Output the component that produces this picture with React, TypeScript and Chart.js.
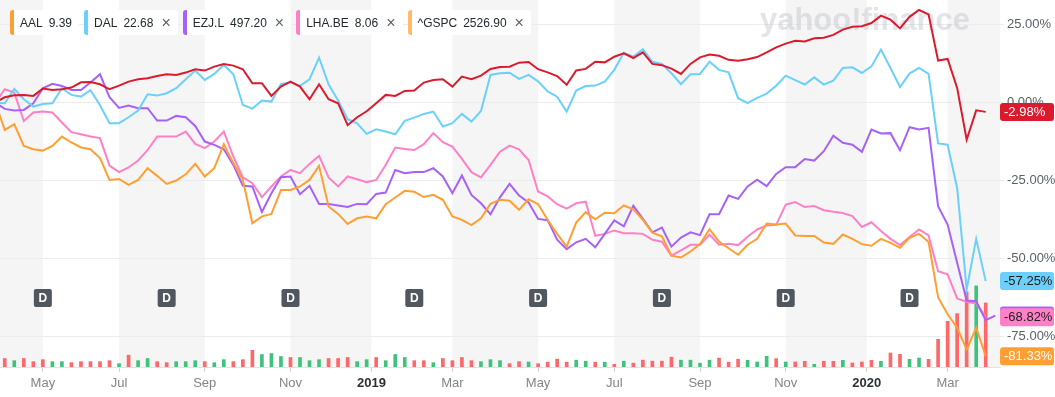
import React, { useEffect, useRef } from "react";
import { Chart, registerables } from "chart.js";

Chart.register(...registerables);

// Weekly points; index 0 = week of 2018-04-02 (comparison base), last = week of 2020-03-30
const FIRST_WEEK = "2018-04-02";

// % change series
const gspc = [0, 1.7, 2.35, 2.46, 2.14, 4.49, 4.06, 4.27, 4.81, 6.52, 6.62, 5.88, 4.27, 5.45, 6.73, 7.48, 7.8, 8.55, 9.08, 8.87,
  9.62, 10.68, 10.26, 11.54, 12.39, 11.86, 10.68, 6.2, 6.2, 2.14, 5.13, 6.73, 5.13, 1.07, 5.88, 1.07, -0.2, -7.26, -4.7, -2.78,
  -0.2, 2.46, 2.14, 3.74, 3.85, 6.41, 7.26, 7.48, 5.13, 8.33, 7.48, 8.65, 10.79, 11.4, 11.5, 12.8, 13.0, 10.7, 9.7, 8.5,
  5.7, 10.3, 10.8, 13.1, 12.9, 14.7, 15.8, 14.3, 16.1, 12.4, 12.0, 10.9, 9.2, 12.4, 14.5, 15.4, 15.0, 13.7, 13.4, 13.9,
  14.6, 16.1, 17.7, 18.9, 19.8, 19.6, 20.6, 20.8, 21.7, 23.4, 24.3, 24.5, 25.5, 27.9, 26.6, 23.8, 27.5, 29.7, 28.3, 13.5,
  14.0, 4.7, -11.9, -2.5, -2.98];
const dal = [0, -0.2, 4.4, 1.07, -1.28, -0.43, -0.2, 4.6, 2.46, 1.92, 3.95, -0.85, -6.6, -6.6, -4.7, -2.56, 2.67, 2.24, 3.0, 4.6,
  7.5, 10.26, 7.26, 9.19, 12.07, 9.08, -0.75, -1.92, 0.64, 0.32, 5.88, 6.52, 5.34, 7.48, 14.42, 5.88, 0.64, -5.34, -6.62, -10.04,
  -8.55, -9.29, -10.15, -5.88, -4.81, -3.63, -2.88, -7.69, -6.62, -3.63, -6.09, -2.67, 8.87, 9.4, 9.6, 7.6, 8.9, 6.8, 3.6, 1.9,
  -2.9, 3.85, 5.3, 5.45, 6.7, 10.5, 16.0, 14.7, 17.1, 13.1, 12.4, 9.4, 5.9, 9.1, 9.2, 13.1, 10.5, 9.7, 1.4, -0.2,
  1.5, 2.9, 5.4, 8.65, 7.2, 5.8, 8.1, 5.8, 7.05, 11.1, 11.3, 9.5, 11.6, 17.0, 11.1, 5.0, 9.3, 11.1, 9.2, -13.1,
  -13.5, -27.4, -59.9, -43.7, -57.25];
const ezj = [0, -2.03, -2.56, -2.35, -0.2, 4.6, 6.0, 5.34, 4.06, 4.06, 6.41, 9.08, 1.7, -1.7, -0.96, -1.82, -1.82, -5.77, -5.77, -4.27,
  -4.7, -7.48, -12.5, -13.57, -14.96, -19.98, -26.7, -26.9, -35.1, -29.06, -23.93, -23.72, -29.38, -26.7, -32.5, -32.5, -33.0, -33.5, -32.5, -32.6,
  -29.3, -28.85, -21.6, -22.65, -22.3, -22.3, -21.05, -23.7, -29.06, -23.4, -29.6, -32.3, -35.8, -30.4, -26.1, -29.8, -32.05, -37.3, -37.7, -44.0,
  -47.0, -44.8, -43.7, -46.4, -42.1, -37.8, -39.7, -33.1, -37.3, -41.6, -40.1, -46.2, -43.3, -41.6, -42.5, -35.8, -35.8, -29.8, -30.9, -26.9,
  -24.7, -26.8, -22.9, -20.7, -20.7, -18.1, -18.6, -15.6, -10.6, -12.9, -13.5, -15.8, -8.65, -9.9, -9.8, -15.3, -7.9, -8.65, -8.1, -33.2,
  -39.1, -51.4, -63.5, -63.7, -69.8, -68.3];
const lha = [0, 4.27, 3.2, -5.9, -3.2, -2.9, -3.2, -6.4, -9.5, -10.15, -10.9, -11.4, -20.2, -22.3, -20.8, -18.6, -15.2, -10.9, -10.9, -10.9,
  -9.3, -13.25, -14.6, -12.5, -9.3, -17.3, -24.0, -25.85, -30.3, -26.9, -23.7, -21.6, -22.65, -19.66, -17.1, -24.0, -26.9, -23.7, -24.6, -25.5,
  -24.8, -20.0, -14.4, -14.85, -15.2, -13.35, -9.8, -12.7, -14.1, -18.05, -22.3, -24.0, -20.0, -15.75, -13.8, -15.0, -18.4, -28.5, -30.1, -32.6,
  -34.0, -32.3, -31.8, -42.7, -42.1, -41.0, -41.9, -41.9, -42.1, -44.0, -44.6, -49.1, -47.4, -45.6, -45.6, -42.4, -45.6, -45.3, -45.7, -43.0,
  -40.7, -39.4, -39.2, -32.7, -31.9, -33.5, -33.2, -34.5, -35.0, -35.4, -36.4, -39.9, -38.4, -41.2, -43.7, -45.7, -43.1, -40.7, -42.6, -54.1,
  -55.1, -62.8, -63.9, -64.4, -68.82];
const aal = [0, -8.76, -6.94, -13.9, -14.96, -15.4, -13.9, -10.9, -12.8, -14.4, -14.96, -17.8, -24.8, -24.5, -26.4, -24.8, -21.05, -23.5, -26.1, -25.0,
  -23.0, -19.66, -23.7, -21.05, -13.35, -19.4, -24.8, -38.7, -36.5, -35.7, -28.0, -28.0, -26.9, -24.8, -20.3, -33.3, -35.7, -38.9, -37.1, -36.5,
  -37.1, -32.6, -30.45, -28.3, -28.6, -30.3, -29.6, -31.2, -36.5, -37.6, -39.3, -37.1, -32.5, -31.2, -31.5, -34.4, -31.0, -32.6, -37.6, -42.1,
  -46.2, -38.5, -35.15, -37.4, -35.3, -35.5, -33.0, -34.2, -37.6, -41.7, -42.9, -49.1, -49.7, -47.75, -45.4, -40.6, -44.6, -46.7, -48.8, -45.6,
  -43.7, -38.8, -39.1, -38.8, -42.6, -42.8, -42.8, -44.9, -45.3, -42.3, -43.7, -45.4, -45.9, -43.7, -45.0, -46.6, -43.4, -42.1, -44.7, -62.4,
  -67.9, -72.2, -79.2, -72.2, -81.33];

// AAL weekly volume (millions, estimated) and up/down week flag (1 = up)
const volume = [36, 51, 38, 51, 32, 44, 32, 32, 26, 32, 32, 32, 38, 20, 71, 38, 51, 32, 26, 32,
  32, 38, 32, 26, 44, 32, 44, 100, 75, 81, 63, 57, 57, 38, 44, 51, 51, 57, 32, 44,
  57, 38, 75, 57, 38, 38, 26, 51, 38, 57, 38, 32, 44, 38, 20, 32, 30, 20, 29, 47,
  29, 41, 35, 29, 29, 16, 35, 23, 41, 35, 35, 59, 41, 41, 23, 41, 53, 29, 47, 40,
  30, 64, 50, 30, 30, 34, 16, 34, 34, 40, 24, 30, 40, 34, 84, 76, 46, 54, 46, 166,
  274, 320, 450, 486, 384];
const volumeUp = [0, 0, 1, 0, 0, 0, 1, 1, 0, 0, 0, 0, 0, 1, 0, 1, 1, 0, 0, 1,
  1, 1, 0, 1, 1, 0, 0, 0, 1, 1, 1, 0, 1, 1, 1, 0, 0, 0, 1, 1,
  0, 1, 1, 1, 0, 0, 1, 0, 0, 0, 0, 1, 1, 1, 0, 0, 1, 0, 0, 0,
  0, 1, 1, 0, 1, 0, 1, 0, 0, 0, 0, 0, 1, 1, 1, 1, 0, 0, 0, 1,
  1, 1, 0, 1, 0, 0, 1, 0, 0, 1, 0, 0, 0, 1, 0, 0, 1, 1, 0, 0,
  0, 0, 0, 1, 0];

// x-axis ticks (week index positions) and labels
const tickPositions = [5, 13, 22, 31, 39.5, 48, 57, 65, 74, 83, 91.5, 100];
const tickLabels = ["May", "Jul", "Sep", "Nov", "2019", "Mar", "May", "Jul", "Sep", "Nov", "2020", "Mar"];
const yTicks = [-75, -50, -25, 0, 25];
const dividendWeeks = [5, 18, 31, 44, 57, 70, 83, 96];

const legendItems = [
  { symbol: "AAL", price: "9.39", color: "#ff9f33", removable: false },
  { symbol: "DAL", price: "22.68", color: "#6bd0fb", removable: true },
  { symbol: "EZJ.L", price: "497.20", color: "#a662f8", removable: true },
  { symbol: "LHA.BE", price: "8.06", color: "#ff80c6", removable: true },
  { symbol: "^GSPC", price: "2526.90", color: "#ffbb6b", removable: true },
];

const C = {
  gspc: "#dc1a2e",
  dal: "#6bd0fb",
  ezj: "#a662f8",
  lha: "#ff80c6",
  aal: "#ff9f33",
};

const FONT = "'Liberation Sans', Arial, sans-serif";

const pts = (arr: number[]) => arr.map((v, i) => ({ x: i, y: v }));

function roundRect(ctx: CanvasRenderingContext2D, x: number, y: number, w: number, h: number, r: number) {
  ctx.beginPath();
  ctx.moveTo(x + r, y);
  ctx.lineTo(x + w - r, y);
  ctx.quadraticCurveTo(x + w, y, x + w, y + r);
  ctx.lineTo(x + w, y + h - r);
  ctx.quadraticCurveTo(x + w, y + h, x + w - r, y + h);
  ctx.lineTo(x + r, y + h);
  ctx.quadraticCurveTo(x, y + h, x, y + h - r);
  ctx.lineTo(x, y + r);
  ctx.quadraticCurveTo(x, y, x + r, y);
  ctx.closePath();
}

const bandsPlugin = {
  id: "bands",
  beforeDraw(chart: any) {
    const { ctx, chartArea, scales } = chart;
    const x = scales.x;
    const bounds = [x.min, ...tickPositions, x.max];
    ctx.save();
    ctx.fillStyle = "#f5f5f5";
    for (let i = 0; i < bounds.length - 1; i += 2) {
      const x0 = x.getPixelForValue(bounds[i]);
      const x1 = x.getPixelForValue(bounds[i + 1]);
      ctx.fillRect(x0, chartArea.top, x1 - x0, chartArea.bottom - chartArea.top);
    }
    ctx.restore();
  },
  beforeDatasetsDraw(chart: any) {
    const { ctx } = chart;
    ctx.save();
    const text = "yahoo!finance";
    let size = 30;
    ctx.font = `bold ${size}px ${FONT}`;
    const w = ctx.measureText(text).width;
    size = (size * 210) / w;
    ctx.font = `bold ${size}px ${FONT}`;
    ctx.fillStyle = "rgba(190,196,204,0.45)";
    ctx.textBaseline = "alphabetic";
    ctx.fillText(text, 760, 30);
    ctx.restore();
  },
  afterDatasetsDraw(chart: any) {
    const { ctx, chartArea, scales } = chart;
    const x = scales.x;
    ctx.save();
    const cy = chartArea.bottom - 69;
    dividendWeeks.forEach((d) => {
      const px = x.getPixelForValue(d);
      ctx.fillStyle = "#51575e";
      roundRect(ctx, px - 9, cy - 9, 18, 18, 2);
      ctx.fill();
      ctx.fillStyle = "#ffffff";
      ctx.font = `bold 12px ${FONT}`;
      ctx.textAlign = "center";
      ctx.textBaseline = "middle";
      ctx.fillText("D", px, cy + 0.5);
    });
    ctx.restore();
  },
  afterDraw(chart: any) {
    const { ctx, chartArea, scales } = chart;
    const y = scales.y;
    const labels = [
      { v: ezj[ezj.length - 1], bg: C.ezj, fg: "#ffffff" },
      { v: lha[lha.length - 1], bg: C.lha, fg: "#1d1d1f" },
      { v: dal[dal.length - 1], bg: C.dal, fg: "#1d1d1f" },
      { v: aal[aal.length - 1], bg: C.aal, fg: "#ffffff" },
      { v: gspc[gspc.length - 1], bg: C.gspc, fg: "#ffffff" },
    ];
    ctx.save();
    labels.forEach((l) => {
      const py = y.getPixelForValue(l.v);
      const x0 = chartArea.right;
      ctx.fillStyle = l.bg;
      roundRect(ctx, x0, py - 9, 54, 18, 3);
      ctx.fill();
      ctx.fillStyle = l.fg;
      ctx.font = `13px ${FONT}`;
      ctx.textAlign = "left";
      ctx.textBaseline = "middle";
      ctx.fillText(`${l.v.toFixed(2)}%`, x0 + 4, py + 0.5);
    });
    ctx.restore();
  },
};

export default function App() {
  const ref = useRef<HTMLCanvasElement | null>(null);

  useEffect(() => {
    if (!ref.current) return;
    const line = (label: string, data: number[], color: string, order: number) => ({
      type: "line" as const,
      label,
      data: pts(data),
      borderColor: color,
      backgroundColor: color,
      borderWidth: 2,
      pointRadius: 0,
      tension: 0,
      yAxisID: "y",
      order,
    });
    const chart = new Chart(ref.current, {
      type: "line",
      data: {
        datasets: [
          {
            type: "bar",
            label: "Volume",
            data: pts(volume),
            backgroundColor: volumeUp.map((u) => (u ? "#3fc37c" : "#ff6868")),
            barThickness: 3,
            yAxisID: "vol",
            order: 10,
          } as any,
          line("LHA.BE", lha, C.lha, 5),
          line("EZJ.L", ezj, C.ezj, 4),
          line("DAL", dal, C.dal, 3),
          line("AAL", aal, C.aal, 2),
          line("^GSPC", gspc, C.gspc, 1),
        ],
      },
      options: {
        animation: false,
        responsive: false,
        devicePixelRatio: 1,
        layout: { padding: 0 },
        plugins: { legend: { display: false }, tooltip: { enabled: false } },
        scales: {
          x: {
            type: "linear",
            offset: false,
            min: 0.5,
            max: 105.5,
            afterBuildTicks: (s: any) => {
              s.ticks = tickPositions.map((v) => ({ value: v }));
            },
            afterFit: (s: any) => {
              s.height = 30;
              s.paddingLeft = 0;
              s.paddingRight = 0;
            },
            grid: { offset: false, drawOnChartArea: false, drawTicks: true, tickLength: 5, color: "#d4d4d4" },
            border: { display: true, color: "#e2e2e2" },
            ticks: {
              autoSkip: false,
              maxRotation: 0,
              padding: 4,
              callback: (_v: any, i: number) => tickLabels[i],
              color: (ctx: any) => (/^\d{4}$/.test(tickLabels[ctx.index] || "") ? "#2c3136" : "#80868b"),
              font: (ctx: any) => ({
                family: FONT,
                size: 13,
                weight: /^\d{4}$/.test(tickLabels[ctx.index] || "") ? "bold" : "normal",
              }),
            },
          },
          y: {
            position: "right",
            min: -84.8,
            max: 32.9,
            afterBuildTicks: (s: any) => {
              s.ticks = yTicks.map((v) => ({ value: v }));
            },
            afterFit: (s: any) => {
              s.width = 55;
              s.paddingTop = 0;
              s.paddingBottom = 0;
            },
            grid: { color: "#ececec", tickLength: 4, drawTicks: true },
            border: { display: false },
            ticks: {
              padding: 3,
              color: "#5a6168",
              font: { family: FONT, size: 13 },
              callback: (v: any) => `${Number(v).toFixed(2)}%`,
            },
          },
          vol: {
            display: false,
            min: 0,
            max: 2200,
          },
        },
      } as any,
      plugins: [bandsPlugin],
    });
    return () => chart.destroy();
  }, []);

  return (
    <div style={{ position: "absolute", left: 0, top: 0, width: 1055, height: 397, background: "#fff" }}>
      <canvas ref={ref} width={1055} height={397} style={{ display: "block", width: 1055, height: 397 }} data-first-week={FIRST_WEEK} />
      <div
        style={{
          position: "absolute",
          left: 10,
          top: 10,
          display: "flex",
          gap: 5,
          fontFamily: FONT,
          fontSize: 12,
          color: "#232a31",
        }}
      >
        {legendItems.map((it) => (
          <div
            key={it.symbol}
            style={{
              display: "flex",
              alignItems: "center",
              height: 25,
              boxSizing: "border-box",
              background: "#ffffff",
              borderRadius: 3,
              borderLeft: `4px solid ${it.color}`,
              padding: "0 7px 0 6px",
              whiteSpace: "nowrap",
            }}
          >
            <span>{it.symbol}</span>
            <span style={{ marginLeft: 6 }}>{it.price}</span>
            {it.removable && (
              <span style={{ marginLeft: 8, fontSize: 16, lineHeight: "16px", color: "#5b636a" }}>×</span>
            )}
          </div>
        ))}
      </div>
    </div>
  );
}
